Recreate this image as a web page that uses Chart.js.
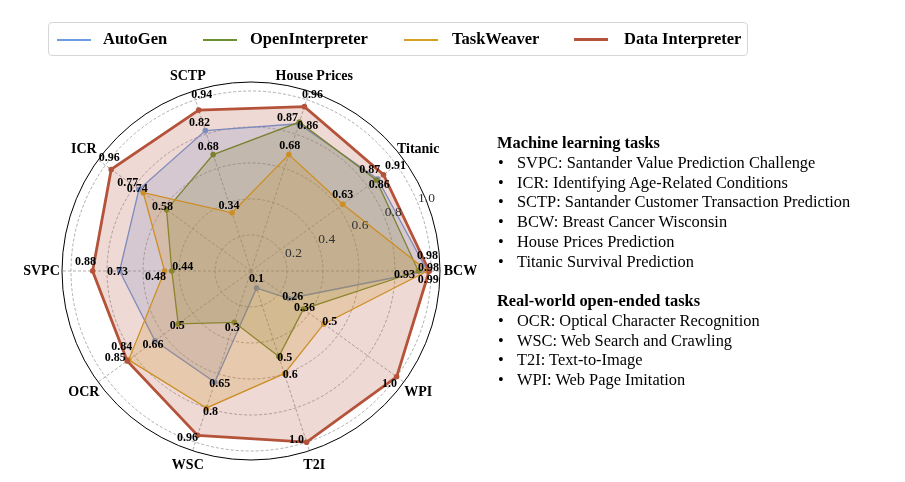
<!DOCTYPE html>
<html>
<head>
<meta charset="utf-8">
<script src="https://cdn.jsdelivr.net/npm/chart.js@4.4.1/dist/chart.umd.min.js"></script>
<style>
  html, body { margin: 0; padding: 0; background: #fff; }
  #wrap { position: relative; width: 905px; height: 482px; overflow: hidden; font-family: "Liberation Serif", "Times New Roman", serif; color: #000; }
  #chart { position: absolute; left: 0; top: 0; }
  .legend { position: absolute; left: 48px; top: 22px; width: 700px; height: 34px; border: 1px solid #d6d6d6; border-radius: 4px; box-sizing: border-box; }
  .lg-line { position: absolute; top: 16px; height: 2px; width: 34px; }
  .lg-text { position: absolute; top: 5px; font-weight: bold; font-size: 16.5px; line-height: 22px; white-space: nowrap; }
  .notes { position: absolute; left: 497px; top: 133px; font-size: 16.4px; line-height: 19.75px; white-space: nowrap; }
  .notes .hd { font-weight: bold; }
  .notes .it { position: relative; padding-left: 20px; }
  .notes .it::before { content: "•"; position: absolute; left: 1px; }
  .notes .gap { height: 19.75px; }
</style>
</head>
<body>
<div id="wrap">
  <canvas id="chart" width="905" height="482"></canvas>
  <div class="legend" id="legend"></div>
  <div class="notes" id="notes"></div>
</div>
<script>
// axes, clockwise from the right-hand (east) spoke
const categories = ['BCW', 'WPI', 'T2I', 'WSC', 'OCR', 'SVPC', 'ICR', 'SCTP', 'House Prices', 'Titanic'];

const autoGen         = [0.98, 0.26, 0.1, 0.65, 0.66, 0.73, 0.77, 0.82, 0.86, 0.87];
const openInterpreter = [0.93, 0.36, 0.5, 0.3,  0.5,  0.44, 0.58, 0.68, 0.87, 0.86];
const taskWeaver      = [0.98, 0.5,  0.6, 0.8,  0.84, 0.48, 0.74, 0.34, 0.68, 0.63];
const dataInterpreter = [0.99, 1.0,  1.0, 0.96, 0.85, 0.88, 0.96, 0.94, 0.96, 0.91];

const radialTicks = [0.2, 0.4, 0.6, 0.8, 1.0];

const mlTasks = [
  'SVPC: Santander Value Prediction Challenge',
  'ICR: Identifying Age-Related Conditions',
  'SCTP: Santander Customer Transaction Prediction',
  'BCW: Breast Cancer Wisconsin',
  'House Prices Prediction',
  'Titanic Survival Prediction'
];
const openTasks = [
  'OCR: Optical Character Recognition',
  'WSC: Web Search and Crawling',
  'T2I: Text-to-Image',
  'WPI: Web Page Imitation'
];

const series = [
  { name: 'AutoGen', values: autoGen, color: '#6E9BE2', width: 1.3 },
  { name: 'OpenInterpreter', values: openInterpreter, color: '#6A8F2E', width: 1.3 },
  { name: 'TaskWeaver', values: taskWeaver, color: '#D3A021', width: 1.3 },
  { name: 'Data Interpreter', values: dataInterpreter, color: '#B4533A', width: 2.8 }
];

// little pixel nudges for the value labels so they don't pile up (same order as categories)
const nudges = [
  [[0, -15], [4, -2], [0, -9], [5, 2], [-2, 4], [-2, 1], [-11, -7], [-6, -8], [9, 2], [-8, -9]],
  [[-14, 4], [1, -1], [6, 1], [-2, 6], [-1, 2], [11, -4], [-4, -3], [-5, -8], [-12, -4], [3, 5]],
  [[1, -3], [6, -2], [6, 1], [4, 4], [-7, -13], [-9, 6], [-6, -4], [-3, -7], [1, -9], [0, -9]],
  [[-1, 9], [-7, 7], [-10, -2], [-10, 3], [-12, -3], [-7, -9], [-2, -12], [3, -15], [8, -12], [12, -9]]
];

function fmt(v) {
  return Number.isInteger(v) ? v.toFixed(1) : String(v);
}

function rgba(hex, a) {
  const n = parseInt(hex.slice(1), 16);
  return `rgba(${(n >> 16) & 255}, ${(n >> 8) & 255}, ${n & 255}, ${a})`;
}

// legend + side notes as plain html
const legendPos = [[57, 103], [203, 250], [404, 452], [574, 624]];
const legend = document.getElementById('legend');
series.forEach((s, i) => {
  const ln = document.createElement('div');
  ln.className = 'lg-line';
  ln.style.left = (legendPos[i][0] - 49) + 'px';
  ln.style.background = s.color;
  if (s.width > 2) { ln.style.height = '3px'; ln.style.top = '15px'; }
  legend.appendChild(ln);
  const tx = document.createElement('div');
  tx.className = 'lg-text';
  tx.style.left = (legendPos[i][1] - 49) + 'px';
  tx.textContent = s.name;
  legend.appendChild(tx);
});

const notes = document.getElementById('notes');
function addLine(cls, text) {
  const d = document.createElement('div');
  d.className = cls;
  d.textContent = text;
  notes.appendChild(d);
}
addLine('hd', 'Machine learning tasks');
mlTasks.forEach(t => addLine('it', t));
addLine('gap', '');
addLine('hd', 'Real-world open-ended tasks');
openTasks.forEach(t => addLine('it', t));

const textPlugin = {
  id: 'radarText',
  beforeDatasetsDraw(chart) {
    const r = chart.scales.r;
    const ctx = chart.ctx;
    ctx.save();
    ctx.strokeStyle = '#000';
    ctx.lineWidth = 1;
    ctx.beginPath();
    ctx.arc(r.xCenter, r.yCenter, r.getDistanceFromCenterForValue(r.max), 0, Math.PI * 2);
    ctx.stroke();
    ctx.restore();
  },
  afterDatasetsDraw(chart) {
    const r = chart.scales.r;
    const ctx = chart.ctx;
    ctx.save();
    ctx.textAlign = 'center';
    ctx.textBaseline = 'middle';

    // radial tick labels along 22.5 deg
    ctx.font = '13.5px "Liberation Serif", serif';
    ctx.fillStyle = '#333';
    const a = 22.5 * Math.PI / 180;
    radialTicks.forEach(v => {
      const d = r.getDistanceFromCenterForValue(v) + 10;
      ctx.fillText(fmt(v), r.xCenter + d * Math.cos(a), r.yCenter - d * Math.sin(a));
    });

    // category labels, centred just outside the outer ring
    ctx.font = 'bold 14px "Liberation Serif", serif';
    ctx.fillStyle = '#000';
    const outer = r.getDistanceFromCenterForValue(r.max);
    categories.forEach((c, i) => {
      const ang = r.getIndexAngle(i) - Math.PI / 2;
      const d = outer + 15.5 + 5 * Math.pow(Math.cos(ang), 4);
      const p = r.getPointPosition(i, d);
      ctx.fillText(c, p.x, p.y);
    });

    // value labels
    ctx.font = 'bold 12px "Liberation Serif", serif';
    chart.data.datasets.forEach((ds, di) => {
      const meta = chart.getDatasetMeta(di);
      meta.data.forEach((pt, i) => {
        const n = nudges[di][i];
        ctx.fillText(fmt(ds.data[i]), pt.x + n[0], pt.y + n[1]);
      });
    });
    ctx.restore();
  }
};

const ctx = document.getElementById('chart').getContext('2d');
new Chart(ctx, {
  type: 'radar',
  data: {
    labels: categories,
    datasets: series.map((s, i) => ({
      label: s.name,
      data: s.values,
      borderColor: s.color,
      backgroundColor: rgba(s.color, 0.22),
      borderWidth: s.width,
      pointBackgroundColor: s.color,
      pointBorderColor: s.color,
      pointRadius: 2.8,
      pointBorderWidth: 0,
      fill: true,
      tension: 0,
      order: series.length - i
    }))
  },
  options: {
    responsive: false,
    animation: false,
    events: [],
    layout: { padding: { left: 61.5, right: 464.5, top: 81.5, bottom: 21.5 } },
    plugins: {
      legend: { display: false },
      tooltip: { enabled: false }
    },
    scales: {
      r: {
        min: 0,
        max: 1.05,
        startAngle: 90,
        ticks: { display: false, stepSize: 0.2 },
        pointLabels: { display: false },
        grid: {
          circular: true,
          color: (c) => (c.tick && c.tick.value > 1.01) ? 'rgba(0,0,0,0)' : '#9a9a9a',
          lineWidth: 0.8
        },
        border: { dash: [3, 2] },
        angleLines: { color: '#9a9a9a', lineWidth: 0.8, borderDash: [3, 2] }
      }
    }
  },
  plugins: [textPlugin]
});
</script>
</body>
</html>
